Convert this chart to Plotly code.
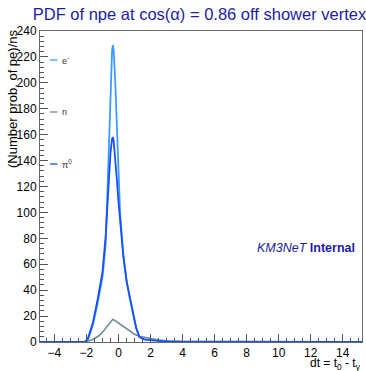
import plotly.graph_objects as go

# ---- data ----
x_e = [-4.9, -2.1, -1.9, -1.6, -1.3, -1.0, -0.8, -0.7, -0.6, -0.5, -0.4, -0.35, -0.3, -0.2, -0.1, 0.0, 0.1, 0.3, 0.5, 0.7, 0.9, 1.1, 1.3, 1.6, 2.0, 2.5, 3.0, 3.5, 4.3, 15.2]
y_e = [0, 0, 2, 13, 30, 50, 75, 110, 150, 195, 225, 229, 225, 200, 165, 130, 100, 68, 48, 34, 21, 11, 4, 2, 1.5, 1, 0.6, 0.4, 0.2, 0]

x_pi = [-4.9, -2.1, -1.9, -1.6, -1.3, -1.0, -0.8, -0.7, -0.6, -0.5, -0.4, -0.35, -0.3, -0.2, -0.1, 0.0, 0.1, 0.3, 0.5, 0.7, 0.9, 1.1, 1.3, 1.6, 2.0, 2.5, 3.0, 15.2]
y_pi = [0, 0, 3, 15, 33, 54, 82, 105, 127, 146, 157, 158, 155, 142, 125, 108, 92, 66, 47, 34, 22, 11, 4, 2, 1.5, 1, 0.3, 0]

x_n = [-4.9, -2.1, -1.6, -1.2, -0.9, -0.6, -0.35, -0.1, 0.3, 0.7, 1.0, 1.3, 1.7, 2.0, 2.5, 3.0, 4.0, 15.2]
y_n = [0, 0, 2, 5, 9, 14, 17.5, 15.5, 12, 8.5, 6, 4.5, 3.5, 2.5, 1.5, 1, 0.5, 0]

series_names = ["e<sup>-</sup>", "n", "π<sup>0</sup>"]
series_colors = ["#3d9bff", "#6f8c96", "#1a4fff"]

title_text = "PDF of npe at cos(α) = 0.86 off shower vertex"
ytitle_text = "(Number prob. of pe)/ns"
xtitle_text = "dt = t<sub>0</sub> - t<sub>γ</sub>"

# ---- figure ----
fig = go.Figure()
fig.add_trace(go.Scatter(x=x_n, y=y_n, mode="lines", line=dict(color=series_colors[1], width=1.6), showlegend=False))
fig.add_trace(go.Scatter(x=x_e, y=y_e, mode="lines", line=dict(color=series_colors[0], width=1.8), showlegend=False))
fig.add_trace(go.Scatter(x=x_pi, y=y_pi, mode="lines", line=dict(color=series_colors[2], width=1.8), showlegend=False))

W, H = 366, 371
L, R, T, B = 40, 4, 31, 29
pw, ph = W - L - R, H - T - B

def px_x(p):
    return (p - L) / pw

def px_y(p):
    return (H - B - p) / ph

# legend drawn ROOT style
leg_y = [60, 112, 164]
for name, col, yy in zip(series_names, series_colors, leg_y):
    fig.add_shape(type="line", xref="paper", yref="paper",
                  x0=px_x(50), x1=px_x(57.5), y0=px_y(yy), y1=px_y(yy),
                  line=dict(color=col, width=1.3))
    fig.add_annotation(x=px_x(60), y=px_y(yy), xref="paper", yref="paper",
                       text=name, showarrow=False, xanchor="left", yanchor="middle",
                       font=dict(size=9, color="#333333", family="Liberation Sans"))

fig.add_annotation(x=px_x(357), y=px_y(247.5), xref="paper", yref="paper",
                   text="<i>KM3NeT</i> <b>Internal</b>", showarrow=False,
                   xanchor="right", yanchor="middle",
                   font=dict(size=12.5, color="#1c1ca6", family="Liberation Sans"))

fig.add_annotation(x=px_x(3), y=px_y(27), xref="paper", yref="paper",
                   text=ytitle_text, textangle=-90, showarrow=False,
                   xanchor="left", yanchor="top",
                   font=dict(size=13, color="#000000", family="Liberation Sans"))

fig.add_annotation(x=px_x(363), y=px_y(364), xref="paper", yref="paper",
                   text=xtitle_text, showarrow=False,
                   xanchor="right", yanchor="middle",
                   font=dict(size=12, color="#000000", family="Liberation Sans"))

fig.update_layout(
    width=W, height=H,
    margin=dict(l=L, r=R, t=T, b=B),
    paper_bgcolor="white", plot_bgcolor="white",
    title=dict(text=title_text, x=0.545, xanchor="center", y=1 - 14 / H, yanchor="middle",
               font=dict(size=16.5, color="#1c1ca6", family="Liberation Sans")),
    font=dict(family="Liberation Sans", size=12, color="#000000"),
)
fig.update_xaxes(range=[-4.9, 15.2], tickmode="linear", tick0=-4, dtick=2,
                 ticks="inside", ticklen=8, tickcolor="#555555",
                 minor=dict(dtick=0.5, ticklen=4, ticks="inside", tickcolor="#555555"),
                 showline=True, linecolor="#666666", linewidth=1, mirror=True,
                 showgrid=False, zeroline=False, tickfont=dict(size=12))
fig.update_yaxes(range=[0, 240], tickmode="linear", tick0=0, dtick=20,
                 ticks="inside", ticklen=8, tickcolor="#555555",
                 minor=dict(dtick=4, ticklen=4, ticks="inside", tickcolor="#555555"),
                 showline=True, linecolor="#666666", linewidth=1, mirror=True,
                 showgrid=False, zeroline=False, tickfont=dict(size=12))

fig.write_html("out.html")
